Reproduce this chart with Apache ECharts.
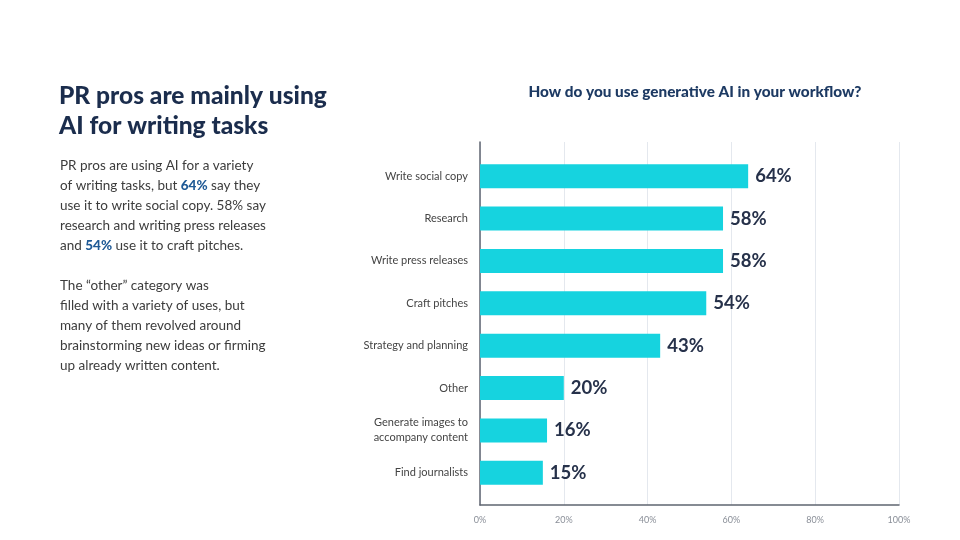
<!DOCTYPE html>
<html>
<head>
<meta charset="utf-8">
<script src="https://cdn.jsdelivr.net/npm/echarts@6/dist/echarts.min.js"></script>
<style>
html,body{margin:0;padding:0;background:#fff;}
#chart{width:960px;height:540px;}
</style>
</head>
<body>
<div id="chart"></div>
<script>
const categories = [
  "Write social copy",
  "Research",
  "Write press releases",
  "Craft pitches",
  "Strategy and planning",
  "Other",
  "Generate images to\naccompany content",
  "Find journalists"
];
const values = [64, 58, 58, 54, 43, 20, 16, 15];
const tickValues = [0, 20, 40, 60, 80, 100];

const chartTitle = "How do you use generative AI in your workflow?";
const headline = "PR pros are mainly using\nAI for writing tasks";
const bodyText =
  "PR pros are using AI for a variety\n" +
  "of writing tasks, but {b|64%} say they\n" +
  "use it to write social copy. 58% say\n" +
  "research and writing press releases\n" +
  "and {b|54%} use it to craft pitches.\n" +
  "\n" +
  "The \u201cother\u201d category was\n" +
  "filled with a variety of uses, but\n" +
  "many of them revolved around\n" +
  "brainstorming new ideas or firming\n" +
  "up already written content.";

const FONT = "Lato, 'Open Sans', sans-serif";
const chart = echarts.init(document.getElementById('chart'), null, {renderer: 'canvas'});

chart.setOption({
  backgroundColor: '#ffffff',
  animation: false,
  textStyle: {fontFamily: FONT},
  title: {
    text: chartTitle,
    left: 690,
    textAlign: 'center',
    top: 80,
    textStyle: {fontFamily: FONT, fontSize: 15.3, fontWeight: 900, color: '#1d3a63'}
  },
  graphic: [
    {
      type: 'text',
      left: 59,
      top: 81,
      style: {
        text: headline,
        font: "900 24.5px " + FONT,
        fill: '#1b2d4d',
        lineHeight: 30
      }
    },
    {
      type: 'text',
      left: 60,
      top: 156,
      style: {
        text: bodyText,
        font: "400 13.5px " + FONT,
        fill: '#3c3c3c',
        lineHeight: 20,
        rich: {
          b: {font: "900 13.5px " + FONT, fill: '#1f5a96', lineHeight: 20}
        }
      }
    }
  ],
  grid: [
    {left: 480, right: 61, top: 155, height: 339, containLabel: false},
    {left: 480, right: 61, top: 142, bottom: 35, containLabel: false}
  ],
  xAxis: [
    {
      gridIndex: 0, type: 'value', min: 0, max: 100,
      show: false
    },
    {
      gridIndex: 1, type: 'value', min: 0, max: 100, interval: 20,
      axisLine: {show: true, lineStyle: {color: '#5f6570', width: 1.5}},
      axisTick: {show: false},
      splitLine: {show: true, lineStyle: {color: '#e4e8ee', width: 1}},
      axisLabel: {
        formatter: v => tickValues.includes(v) ? v + '%' : '',
        fontSize: 9, color: '#8a8f98', margin: 11, fontFamily: FONT
      }
    }
  ],
  yAxis: [
    {
      gridIndex: 0, type: 'category', data: categories, inverse: true,
      axisLine: {show: false}, axisTick: {show: false},
      axisLabel: {fontSize: 11, color: '#444', margin: 12, lineHeight: 15, fontFamily: FONT, align: 'right'}
    },
    {
      gridIndex: 1, type: 'value', min: 0, max: 1,
      axisLine: {show: true, lineStyle: {color: '#5f6570', width: 1.5}},
      axisTick: {show: false}, axisLabel: {show: false}, splitLine: {show: false}
    }
  ],
  series: [
    {
      type: 'bar',
      xAxisIndex: 0, yAxisIndex: 0,
      data: values,
      barWidth: 24,
      itemStyle: {color: '#16d3df'},
      label: {
        show: true, position: 'right', distance: 7,
        formatter: p => p.value + '%',
        fontSize: 18.5, fontWeight: 700, color: '#26314a', fontFamily: FONT
      }
    }
  ]
});
</script>
</body>
</html>
